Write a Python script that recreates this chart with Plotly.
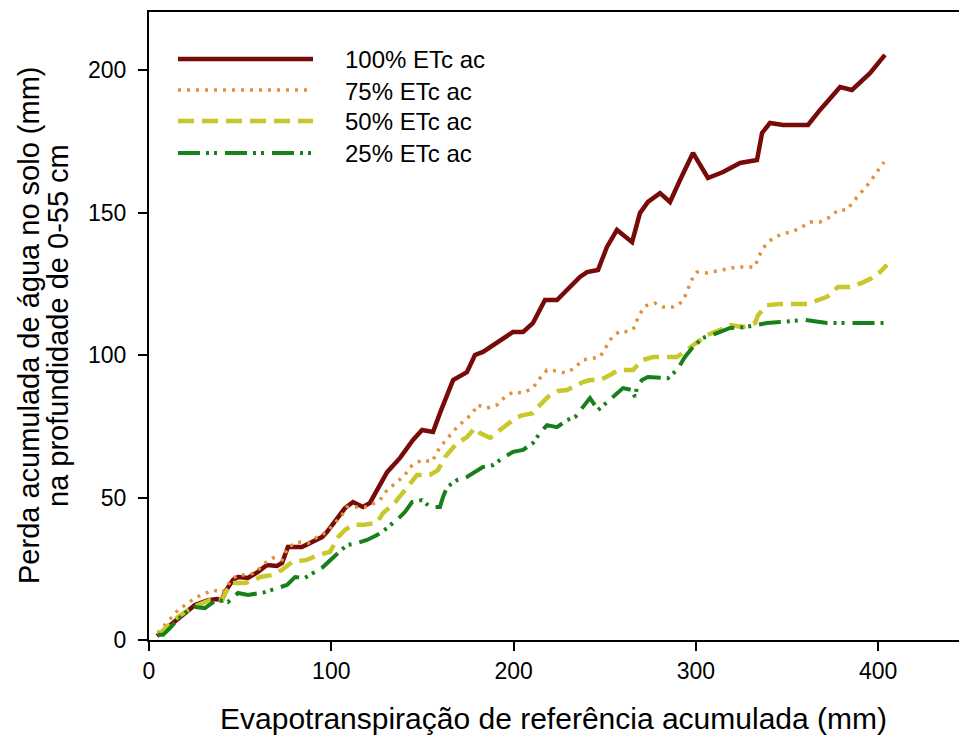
import plotly.graph_objects as go

# ---- data ----
x100 = [4.4, 7.7, 15.4, 25.2, 32.4, 37.3, 40.0, 41.7, 46.1, 48.8, 54.3, 59.8, 64.7, 70.2, 73.0, 76.2, 83.9, 88.3, 94.9, 97.6,
        103.7, 107.5, 111.9, 117.4, 121.2, 130.6, 137.7, 144.8, 149.8, 155.8, 159.6, 162.4, 166.8, 174.4, 178.8, 183.2,
        188.7, 193.6, 199.7, 205.2, 210.6, 217.2, 223.8, 236.4, 240.3, 246.3, 251.2, 256.7, 265.0, 269.3, 273.7, 280.3,
        285.8, 291.3, 298.4, 306.6, 314.9, 324.2, 333.5, 336.3, 340.6, 347.8, 361.5, 368.1, 375.2, 379.1, 385.6, 395.5, 403.7]
y100 = [1.4, 3.2, 7.0, 12.3, 14.0, 14.4, 14.0, 16.8, 21.1, 22.1, 21.8, 23.9, 26.3, 26.0, 27.0, 32.6, 32.6, 34.0, 36.1, 37.9,
        43.2, 46.3, 48.4, 46.7, 48.1, 58.9, 63.9, 70.2, 73.7, 73.0, 79.6, 84.2, 91.2, 94.0, 100.0, 101.1,
        103.5, 105.3, 108.1, 108.1, 111.2, 119.3, 119.3, 127.4, 129.1, 129.8, 137.9, 143.9, 139.6, 149.8, 153.7, 156.8,
        153.7, 161.4, 170.9, 162.1, 164.2, 167.4, 168.4, 177.9, 181.4, 180.7, 180.7, 186.0, 191.2, 194.0, 193.0, 198.9, 205.3]

x75 = [4.9, 15.9, 21.4, 26.3, 35.1, 40.6, 44.4, 48.3, 52.7, 58.1, 63.6, 68.0, 73.0, 76.2, 81.7, 87.2, 92.2, 97.6, 102.0,
       105.9, 108.6, 111.9, 119.6, 126.7, 130.6, 136.0, 140.4, 143.2, 144.8, 149.8, 155.2, 159.6, 164.0, 169.0, 173.3,
       177.7, 179.9, 185.4, 190.9, 195.3, 199.7, 205.2, 210.6, 214.5, 218.3, 223.8, 228.2, 233.7, 237.5, 243.0, 247.4,
       250.7, 254.0, 258.4, 262.8, 266.6, 268.2, 272.1, 277.6, 282.0, 287.4, 292.4, 295.1, 297.3, 300.6, 306.1, 311.6,
       317.1, 322.5, 332.4, 334.1, 336.8, 341.7, 347.2, 352.7, 358.2, 362.6, 368.1, 373.6, 378.0, 382.9, 386.2, 391.1,
       395.5, 399.3, 403.2]
y75 = [2.5, 10.5, 13.0, 15.1, 17.5, 16.8, 20.4, 22.8, 22.8, 23.5, 27.0, 28.8, 28.1, 32.6, 34.4, 34.0, 36.1, 37.9, 41.1,
       43.9, 46.7, 46.7, 46.7, 49.1, 52.6, 55.4, 57.9, 60.7, 61.4, 63.2, 62.5, 67.7, 71.2, 74.7, 77.2,
       79.6, 82.5, 81.4, 82.5, 85.3, 87.0, 86.7, 88.4, 91.9, 94.7, 94.4, 93.7, 95.4, 98.2, 98.9, 99.3,
       102.8, 106.3, 108.4, 108.1, 109.8, 113.3, 117.2, 118.2, 116.8, 116.8, 118.6, 122.1, 126.0, 129.1, 128.8, 129.5,
       130.5, 130.9, 130.9, 134.0, 137.5, 140.7, 142.5, 143.2, 144.9, 146.7, 146.7, 148.4, 150.9, 150.9, 153.7, 157.2,
       160.7, 164.2, 167.7]

x50 = [4.9, 15.9, 21.4, 26.9, 33.5, 40.0, 42.8, 45.5, 52.7, 58.1, 60.9, 67.5, 73.0, 78.4, 86.7, 92.7, 99.3, 103.7, 107.5,
       111.9, 117.4, 125.1, 128.4, 133.8, 140.4, 147.0, 154.1, 158.5, 162.4, 169.0, 174.4, 178.8, 181.6, 187.1, 192.5,
       196.4, 201.9, 205.2, 210.6, 213.4, 218.9, 224.4, 229.3, 232.6, 238.1, 241.9, 247.4, 252.9, 257.3, 265.5, 270.4,
       276.5, 289.6, 295.1, 300.6, 306.1, 313.2, 318.7, 325.8, 332.4, 334.1, 339.0, 346.1, 361.0, 364.2, 371.9, 378.0,
       384.5, 391.1, 396.6, 401.0, 404.8]
y50 = [1.8, 8.1, 10.5, 12.3, 14.0, 14.0, 17.5, 20.0, 20.0, 21.1, 22.1, 22.8, 24.6, 27.4, 28.1, 29.8, 30.9, 36.1, 38.6,
       40.4, 40.4, 41.1, 44.6, 47.4, 52.6, 57.9, 57.9, 59.6, 64.2, 69.1, 71.2, 74.4, 72.6, 70.9, 73.7,
       75.4, 78.2, 78.9, 79.6, 81.8, 85.3, 87.4, 87.7, 88.8, 90.5, 91.2, 91.2, 93.0, 94.7, 94.7, 98.2,
       99.3, 99.3, 101.8, 104.6, 107.0, 108.8, 110.5, 109.8, 111.2, 114.0, 117.5, 117.9, 117.9, 118.6, 120.4, 123.9,
       123.9, 125.3, 127.0, 129.1, 131.6]

x25 = [4.9, 7.7, 11.5, 15.4, 19.7, 25.2, 30.7, 34.6, 37.9, 43.3, 48.8, 54.3, 63.6, 70.2, 75.7, 80.1, 85.6, 90.0, 95.4,
       103.7, 108.6, 114.1, 119.6, 125.1, 130.6, 137.7, 140.4, 144.3, 149.8, 154.1, 159.6, 161.3, 163.5, 169.0, 174.4,
       183.2, 188.7, 194.2, 199.7, 205.2, 210.6, 214.5, 218.3, 223.8, 229.3, 233.7, 237.5, 241.9, 246.3, 251.2, 255.6,
       260.0, 264.9, 266.6, 267.7, 270.4, 273.7, 284.7, 289.6, 294.0, 298.4, 303.9, 311.6, 318.7, 326.9, 339.0, 346.1,
       359.8, 371.9, 403.7]
y25 = [1.8, 1.8, 4.2, 7.0, 9.5, 11.6, 11.2, 13.0, 14.0, 13.3, 16.5, 15.8, 16.8, 18.2, 19.3, 22.1, 21.8, 23.5, 25.6,
       30.5, 33.3, 34.0, 35.1, 36.8, 39.3, 43.2, 44.9, 48.4, 49.1, 46.7, 46.7, 50.2, 53.7, 56.1, 57.2,
       60.7, 61.4, 63.9, 66.0, 66.7, 69.1, 72.6, 75.4, 74.7, 77.2, 78.2, 81.4, 84.9, 80.7, 83.5, 86.0,
       88.4, 87.7, 85.3, 88.8, 91.2, 92.3, 91.9, 94.7, 99.3, 102.8, 106.0, 107.7, 109.5, 109.8, 111.2, 111.6,
       112.3, 111.2, 111.2]

series_names = ["100% ETc ac", "75% ETc ac", "50% ETc ac", "25% ETc ac"]
x_ticks = [0, 100, 200, 300, 400]
y_ticks = [0, 50, 100, 150, 200]
y_title_lines = ["Perda acumulada de água no solo (mm)", "na profundidade de 0-55 cm"]
x_title = "Evapotranspiração de referência acumulada (mm)"

colors = ["#780A0A", "#E0913A", "#C8C82A", "#17801A"]
dashes = ["solid", "3px,6px", "16px,8px", "22px,6px,3px,5px,3px,8px"]
widths = [4.5, 3.5, 4.5, 4]

FONT = "Liberation Sans, Arial, sans-serif"

fig = go.Figure()
for xs, ys, name, c, d, w in zip([x100, x75, x50, x25], [y100, y75, y50, y25], series_names, colors, dashes, widths):
    fig.add_trace(go.Scatter(x=xs, y=ys, mode="lines", name=name,
                             line=dict(color=c, width=w, dash=d), showlegend=False))

W, H = 959, 745
ML, MT, MB_ABS = 149, 12, 640
PW, PH = W - ML, MB_ABS - MT


def px2paper_x(px):
    return (px - ML) / PW


def px2paper_y(py):
    return (MB_ABS - py) / PH


leg_rows = [59, 90, 121, 153]
shapes = []
annotations = []
for name, c, d, w, ry in zip(series_names, colors, dashes, widths, leg_rows):
    shapes.append(dict(type="line", xref="paper", yref="paper",
                       x0=px2paper_x(178), x1=px2paper_x(313), y0=px2paper_y(ry), y1=px2paper_y(ry),
                       line=dict(color=c, width=w, dash=d)))
    annotations.append(dict(text=name, xref="paper", yref="paper", x=px2paper_x(343), y=px2paper_y(ry + 1),
                            xanchor="left", yanchor="middle", showarrow=False,
                            font=dict(family=FONT, size=24, color="black")))

for line, cx in zip(y_title_lines, [29, 58]):
    annotations.append(dict(text=line, xref="paper", yref="paper", x=0, y=0.5, xshift=cx - ML,
                            xanchor="center", yanchor="middle", textangle=-90, showarrow=False,
                            font=dict(family=FONT, size=29, color="black")))
annotations.append(dict(text=x_title, xref="paper", yref="paper", x=px2paper_x(553), y=0, yshift=-(718 - MB_ABS),
                        xanchor="center", yanchor="middle", showarrow=False,
                        font=dict(family=FONT, size=30, color="black")))

fig.update_layout(
    width=W, height=H,
    margin=dict(l=ML, r=0, t=MT, b=H - MB_ABS, pad=0),
    paper_bgcolor="white", plot_bgcolor="white",
    font=dict(family=FONT, size=23, color="black"),
    shapes=shapes, annotations=annotations,
    showlegend=False,
)
fig.update_xaxes(range=[0, PW / 1.823], tickvals=x_ticks, ticks="outside", ticklen=9, tickwidth=2, tickcolor="black",
                 showline=True, linecolor="black", linewidth=2, mirror=True, showgrid=False, zeroline=False,
                 tickfont=dict(family=FONT, size=23))
fig.update_yaxes(range=[0, PH / 2.85], tickvals=y_ticks, ticks="outside", ticklen=9, tickwidth=2, tickcolor="black",
                 showline=True, linecolor="black", linewidth=2, mirror=False, showgrid=False, zeroline=False,
                 ticklabelstandoff=7, tickfont=dict(family=FONT, size=23))

# remove the default page margin so the figure sits at the window's top-left corner
fig.write_html("out.html",
               config={"displayModeBar": False},
               post_script="document.body.style.margin='0';document.body.style.overflow='hidden';")
